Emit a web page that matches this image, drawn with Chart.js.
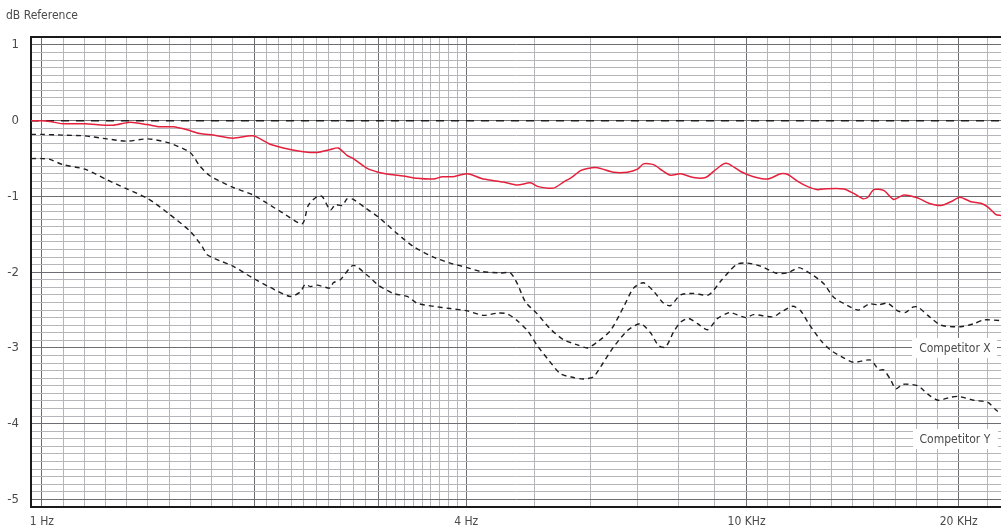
<!DOCTYPE html>
<html>
<head>
<meta charset="utf-8">
<script src="https://cdn.jsdelivr.net/npm/chart.js@4/dist/chart.umd.min.js"></script>
<style>
  html, body { margin: 0; padding: 0; background: #ffffff; }
  #wrap { width: 1001px; height: 530px; }
</style>
</head>
<body>
<div id="wrap"><canvas id="c" width="1001" height="530"></canvas></div>
<script>
// ---------- DATA ----------
const xMin = 0.965, xMax = 22.96;
const yMin = -5.1, yMax = 1.1;

const xTickValues = [1, 4, 10, 20];
const xTickLabels = ['1 Hz', '4 Hz', '10 KHz', '20 KHz'];
const yTickValues = [1, 0, -1, -2, -3, -4, -5];

const freqFlat = [0.965, 22.96];
const dbFlat   = [0, 0];

const freqRef = [0.965, 1.0, 1.026, 1.071, 1.151, 1.261, 1.334, 1.41, 1.471, 1.535, 1.607, 1.676, 1.75, 1.867, 1.994,
  2.108, 2.251, 2.349, 2.458, 2.566, 2.633, 2.712, 2.766, 2.895, 3.0, 3.121, 3.256, 3.409, 3.593, 3.70, 3.822,
  4.016, 4.231, 4.518, 4.727, 4.933, 5.063, 5.319, 5.497, 5.66, 5.811, 5.945, 6.143, 6.473, 6.776, 7.002, 7.139,
  7.377, 7.598, 7.798, 8.059, 8.408, 8.745, 8.976, 9.276, 9.428, 9.806, 10.23, 10.71, 11.18, 11.44, 11.82, 12.21,
  12.61, 12.86, 13.73, 14.19, 14.62, 14.86, 15.15, 15.65, 16.17, 16.71, 17.5, 18.14, 18.87, 19.49, 20.07, 20.81,
  21.5, 22.0, 22.59, 22.96];
const dbRef = [0.00, 0.00, -0.01, -0.04, -0.04, -0.06, -0.02, -0.05, -0.08, -0.08, -0.12, -0.17, -0.19, -0.23, -0.20,
  -0.31, -0.38, -0.41, -0.42, -0.38, -0.36, -0.46, -0.50, -0.63, -0.68, -0.71, -0.73, -0.76, -0.77, -0.74, -0.74,
  -0.70, -0.77, -0.81, -0.85, -0.82, -0.87, -0.89, -0.81, -0.74, -0.66, -0.63, -0.62, -0.68, -0.68, -0.64, -0.57,
  -0.58, -0.66, -0.72, -0.70, -0.75, -0.75, -0.67, -0.57, -0.57, -0.67, -0.74, -0.77, -0.70, -0.71, -0.80, -0.87,
  -0.91, -0.90, -0.90, -0.96, -1.03, -1.01, -0.91, -0.92, -1.04, -0.98, -1.02, -1.09, -1.12, -1.07, -1.01, -1.07,
  -1.09, -1.14, -1.24, -1.25];

const freqX = [0.965, 1.0, 1.071, 1.151, 1.237, 1.32, 1.415, 1.51, 1.623, 1.676, 1.733, 1.867, 1.994, 2.087, 2.199,
  2.341, 2.387, 2.458, 2.499, 2.566, 2.608, 2.668, 2.712, 2.766, 2.876, 3.0, 3.193, 3.365, 3.593, 3.797, 4.016,
  4.19, 4.474, 4.621, 4.727, 4.853, 5.046, 5.267, 5.497, 5.754, 5.945, 6.143, 6.41, 6.689, 6.911, 7.139, 7.377,
  7.623, 7.798, 8.059, 8.408, 8.831, 9.185, 9.49, 9.71, 10.03, 10.47, 11.0, 11.44, 11.86, 12.33, 12.86, 13.29,
  13.91, 14.42, 14.91, 15.4, 15.86, 16.38, 16.82, 17.21, 17.5, 18.08, 18.87, 20.14, 21.01, 21.71, 22.96];
const dbX = [-0.18, -0.18, -0.19, -0.20, -0.24, -0.27, -0.24, -0.29, -0.42, -0.60, -0.73, -0.88, -0.98, -1.09, -1.22,
  -1.36, -1.12, -1.00, -1.00, -1.18, -1.11, -1.12, -1.03, -1.04, -1.15, -1.27, -1.49, -1.66, -1.80, -1.88, -1.94,
  -1.99, -2.01, -2.01, -2.15, -2.39, -2.55, -2.75, -2.89, -2.96, -3.00, -2.92, -2.77, -2.46, -2.21, -2.14, -2.25,
  -2.41, -2.44, -2.30, -2.28, -2.30, -2.12, -1.97, -1.89, -1.88, -1.92, -2.01, -2.01, -1.94, -2.02, -2.15, -2.33,
  -2.44, -2.50, -2.42, -2.43, -2.41, -2.51, -2.53, -2.46, -2.46, -2.57, -2.70, -2.72, -2.68, -2.63, -2.64];

const freqY = [0.965, 1.0, 1.026, 1.071, 1.151, 1.237, 1.32, 1.415, 1.51, 1.623, 1.688, 1.716, 1.79, 1.867, 1.994,
  2.108, 2.251, 2.326, 2.364, 2.403, 2.458, 2.566, 2.591, 2.651, 2.766, 2.895, 3.0, 3.152, 3.299, 3.409, 3.593,
  3.797, 4.016, 4.231, 4.43, 4.576, 4.727, 4.885, 5.046, 5.215, 5.443, 5.68, 5.869, 6.063, 6.265, 6.473, 6.776,
  7.07, 7.305, 7.499, 7.672, 7.876, 8.059, 8.272, 8.519, 8.802, 9.095, 9.398, 9.49, 9.968, 10.23, 10.89, 11.18,
  11.63, 11.93, 12.25, 12.74, 13.16, 13.73, 14.19, 15.0, 15.4, 15.65, 16.01, 16.28, 16.66, 17.5, 18.08, 18.68,
  19.49, 20.0, 21.01, 22.0, 22.59, 22.96];
const dbY = [-0.50, -0.50, -0.51, -0.58, -0.64, -0.78, -0.90, -1.03, -1.22, -1.46, -1.66, -1.77, -1.85, -1.92, -2.08,
  -2.20, -2.32, -2.26, -2.16, -2.19, -2.17, -2.21, -2.14, -2.10, -1.91, -2.04, -2.17, -2.28, -2.32, -2.41, -2.45,
  -2.48, -2.51, -2.57, -2.54, -2.55, -2.64, -2.77, -2.97, -3.14, -3.34, -3.39, -3.41, -3.38, -3.19, -2.99, -2.77,
  -2.68, -2.80, -2.97, -2.99, -2.79, -2.66, -2.61, -2.68, -2.76, -2.61, -2.54, -2.53, -2.60, -2.56, -2.59, -2.53,
  -2.45, -2.51, -2.68, -2.90, -3.03, -3.13, -3.19, -3.16, -3.29, -3.29, -3.42, -3.54, -3.48, -3.50, -3.61, -3.69,
  -3.65, -3.64, -3.69, -3.72, -3.82, -3.87];

const seriesLabels = ['Reference', 'Flat', 'Competitor X', 'Competitor Y'];
const calloutLabels = ['Competitor X', 'Competitor Y'];
const calloutFreq = [19.75, 19.75];
const calloutDb = [-3.0, -4.2];

// ---------- GRID POSITIONS (equal pixel subdivisions between major lines) ----------
const xMajorDark = [1, 2, 3, 4, 10, 20];
function subdiv(a, b, n) { const out = []; for (let k = 0; k < n; k++) out.push(a * Math.pow(b / a, k / n)); return out; }
const xGridValues = [].concat(subdiv(1, 2, 10), subdiv(2, 3, 10), subdiv(3, 4, 10), [4, 5, 6, 7, 8, 9], subdiv(10, 20, 10), [20, 22]);

const FONT = "'Liberation Sans Narrow', 'DejaVu Sans Condensed', 'Liberation Sans', sans-serif";
const TXT = '#4a4a4a';

function pts(xs, ys) { return xs.map((x, i) => ({ x: x, y: ys[i] })); }
function isClose(v, arr) { return arr.some(a => Math.abs(a - v) < 1e-6); }

const calloutPlugin = {
  id: 'callouts',
  afterDatasetsDraw(chart) {
    const ctx = chart.ctx, xs = chart.scales.x, ys = chart.scales.y;
    ctx.save();
    ctx.font = '12px ' + FONT;
    ctx.textAlign = 'center';
    ctx.textBaseline = 'middle';
    calloutLabels.forEach((t, i) => {
      const cx = xs.getPixelForValue(calloutFreq[i]);
      const cy = ys.getPixelForValue(calloutDb[i]);
      const w = ctx.measureText(t).width + 14;
      ctx.fillStyle = '#ffffff';
      ctx.fillRect(Math.round(cx - w / 2), Math.round(cy - 10), Math.round(w), 20);
      ctx.fillStyle = TXT;
      ctx.fillText(t, cx, cy + 1);
    });
    ctx.restore();
  }
};

new Chart(document.getElementById('c'), {
  type: 'line',
  data: {
    datasets: [
      { label: seriesLabels[0], data: pts(freqRef, dbRef), borderColor: '#e5203c', borderWidth: 1.5, pointRadius: 0, tension: 0.25, order: 1 },
      { label: seriesLabels[1], data: pts(freqFlat, dbFlat), borderColor: '#1e1e1e', borderWidth: 1.5, borderDash: [8, 7], pointRadius: 0, order: 2 },
      { label: seriesLabels[2], data: pts(freqX, dbX), borderColor: '#1e1e1e', borderWidth: 1.4, borderDash: [5, 4], pointRadius: 0, tension: 0.25, order: 3 },
      { label: seriesLabels[3], data: pts(freqY, dbY), borderColor: '#1e1e1e', borderWidth: 1.4, borderDash: [5, 4], pointRadius: 0, tension: 0.25, order: 4 }
    ]
  },
  options: {
    responsive: false,
    animation: false,
    events: [],
    layout: { padding: { left: 6, right: 0, top: 0, bottom: 0 } },
    plugins: {
      legend: { display: false },
      tooltip: { enabled: false },
      title: {
        display: true, text: 'dB Reference', align: 'start',
        color: TXT, font: { family: FONT, size: 12, weight: 'normal' },
        padding: { top: 9, bottom: 14 }
      }
    },
    scales: {
      x: {
        type: 'logarithmic', position: 'bottom', min: xMin, max: xMax,
        afterBuildTicks(scale) { scale.ticks = xGridValues.map(v => ({ value: v })); },
        afterFit(scale) { scale.height = 23; },
        ticks: {
          autoSkip: false, maxRotation: 0, padding: 8, color: TXT,
          font: { family: FONT, size: 12 },
          callback(v) { const i = xTickValues.findIndex(t => Math.abs(t - v) < 1e-6); return i >= 0 ? xTickLabels[i] : ''; }
        },
        grid: {
          drawTicks: false,
          color(c) { return isClose(c.tick.value, xMajorDark) ? '#6e6e72' : '#b6b6ba'; },
          lineWidth: 1
        },
        border: { display: true, color: '#1a1a1a', width: 2 }
      },
      xTop: {
        type: 'logarithmic', position: 'top', min: xMin, max: xMax,
        ticks: { display: false }, grid: { display: false, drawTicks: false },
        afterFit(scale) { scale.height = 0; },
        border: { display: true, color: '#1a1a1a', width: 2 }
      },
      y: {
        type: 'linear', min: yMin, max: yMax,
        afterBuildTicks(scale) { const t = []; for (let k = -51; k <= 11; k++) t.push({ value: k / 10 }); scale.ticks = t; },
        afterFit(scale) { scale.width = 25; },
        ticks: {
          autoSkip: false, padding: 12, color: TXT,
          font: { family: FONT, size: 13 },
          callback(v) { const i = yTickValues.findIndex(t => Math.abs(t - v) < 1e-6); return i >= 0 ? String(yTickValues[i]) : ''; }
        },
        grid: {
          drawTicks: false,
          color(c) { return isClose(c.tick.value, yTickValues) ? '#6e6e72' : '#b6b6ba'; },
          lineWidth: 1
        },
        border: { display: true, color: '#1a1a1a', width: 2 }
      }
    }
  },
  plugins: [calloutPlugin]
});
</script>
</body>
</html>
